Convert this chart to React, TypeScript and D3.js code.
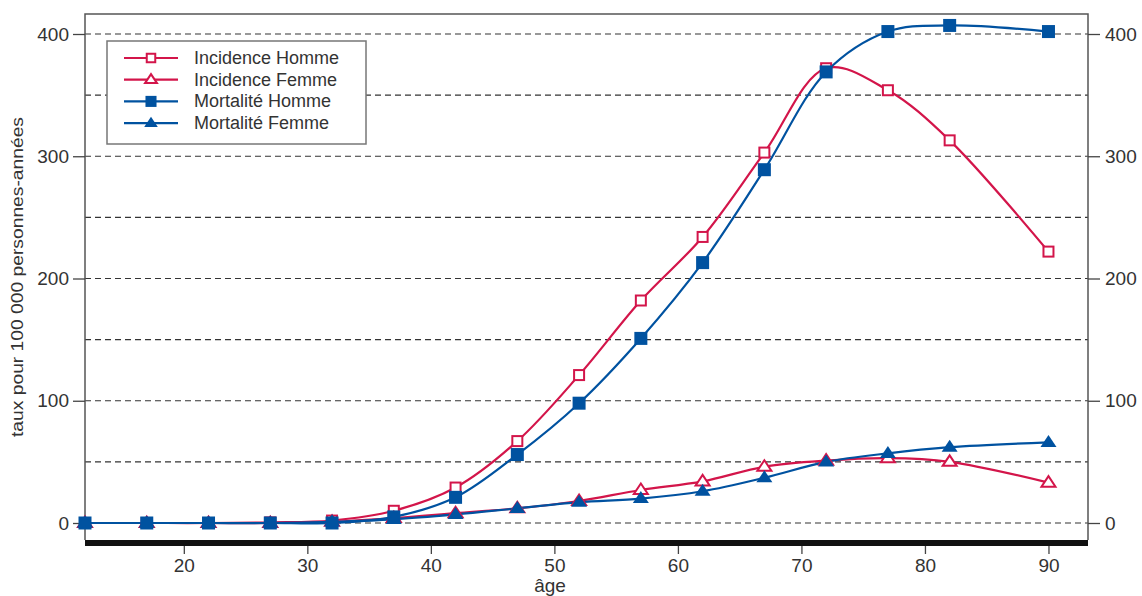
import * as d3 from 'd3';
import { useEffect, useRef } from 'react';

// ages (x) of the sampled points
const ages = [12, 17, 22, 27, 32, 37, 42, 47, 52, 57, 62, 67, 72, 77, 82, 90];

// rates per 100 000 person-years
const incidenceHomme = [0, 0, 0, 0.5, 2, 10, 29, 67, 121, 182, 234, 303, 372, 354, 313, 222];
const incidenceFemme = [0, 0, 0, 0, 1, 4, 8, 12, 18, 27, 34, 46, 51, 53, 50, 33];
const mortaliteHomme = [0, 0, 0, 0, 0, 5, 21, 56, 98, 151, 213, 289, 369, 402, 407, 402];
const mortaliteFemme = [0, 0, 0, 0, 1, 3, 7, 12, 17, 20, 26, 37, 50, 57, 62, 66];

const xTicks = [20, 30, 40, 50, 60, 70, 80, 90];
const yTicks = [0, 100, 200, 300, 400];
const gridTicks = [0, 50, 100, 150, 200, 250, 300, 350, 400];

const RED = '#d3154a';
const BLUE = '#0052a0';

const series = [
  { name: 'Incidence Homme', values: incidenceHomme, color: RED, shape: 'square', filled: false },
  { name: 'Incidence Femme', values: incidenceFemme, color: RED, shape: 'triangle', filled: false },
  { name: 'Mortalité Homme', values: mortaliteHomme, color: BLUE, shape: 'square', filled: true },
  { name: 'Mortalité Femme', values: mortaliteFemme, color: BLUE, shape: 'triangle', filled: true },
];

export default function App() {
  const svgRef = useRef<SVGSVGElement | null>(null);

  useEffect(() => {
    if (!svgRef.current) return;
    const width = 1142;
    const height = 596;
    const box = { left: 85, right: 1088, top: 14, bottom: 540 };
    const font = '"Liberation Sans", Arial, sans-serif';

    const svg = d3.select(svgRef.current).attr('width', width).attr('height', height);
    svg.selectAll('*').remove();

    const x = d3.scaleLinear().domain([12, 93.2]).range([box.left, box.right]);
    const y = d3.scaleLinear().domain([0, 400]).range([523, 34]);

    // dashed grid
    svg.append('g')
      .selectAll('line')
      .data(gridTicks)
      .join('line')
      .attr('x1', box.left)
      .attr('x2', box.right)
      .attr('y1', (d) => y(d))
      .attr('y2', (d) => y(d))
      .attr('stroke', '#333')
      .attr('stroke-width', 1.2)
      .attr('stroke-dasharray', '6,4');

    // frame
    svg.append('path')
      .attr('d', `M${box.left},${box.bottom}V${box.top}H${box.right}V${box.bottom}`)
      .attr('fill', 'none')
      .attr('stroke', '#555')
      .attr('stroke-width', 1.5);
    svg.append('rect')
      .attr('x', box.left)
      .attr('y', box.bottom)
      .attr('width', box.right - box.left)
      .attr('height', 6)
      .attr('fill', '#111');

    const styleAxis = (g: any) => {
      g.select('.domain').remove();
      g.selectAll('line').attr('stroke', '#444').attr('stroke-width', 1.3);
      g.selectAll('text').attr('fill', '#333').attr('font-size', 19).attr('font-family', font);
    };

    // y axes left & right
    svg.append('g')
      .attr('transform', `translate(${box.left},0)`)
      .call(d3.axisLeft(y).tickValues(yTicks).tickSize(12).tickPadding(4))
      .call(styleAxis);

    svg.append('g')
      .attr('transform', `translate(${box.right},0)`)
      .call(d3.axisRight(y).tickValues(yTicks).tickSize(12).tickPadding(5))
      .call(styleAxis);

    // x axis
    svg.append('g')
      .attr('transform', `translate(0,${box.bottom + 6})`)
      .call(d3.axisBottom(x).tickValues(xTicks).tickSize(8).tickPadding(5))
      .call(styleAxis);

    svg.append('text')
      .attr('x', 550)
      .attr('y', 592)
      .attr('text-anchor', 'middle')
      .attr('fill', '#333')
      .attr('font-size', 19)
      .attr('font-family', font)
      .text('âge');

    svg.append('text')
      .attr('transform', `translate(23,277) rotate(-90)`)
      .attr('text-anchor', 'middle')
      .attr('fill', '#333')
      .attr('font-size', 17)
      .attr('font-family', font)
      .attr('textLength', 320)
      .attr('lengthAdjust', 'spacingAndGlyphs')
      .text('taux pour 100 000 personnes-années');

    const line = d3.line<number>()
      .x((d, i) => x(ages[i]))
      .y((d) => y(d))
      .curve(d3.curveCatmullRom.alpha(0.5));

    const drawMarker = (g: any, cx: number, cy: number, s: typeof series[number], scale = 1) => {
      if (s.shape === 'square') {
        const size = (s.filled ? 13 : 10) * scale;
        g.append('rect')
          .attr('x', cx - size / 2)
          .attr('y', cy - size / 2)
          .attr('width', size)
          .attr('height', size)
          .attr('fill', s.filled ? s.color : '#fff')
          .attr('stroke', s.color)
          .attr('stroke-width', s.filled ? 0 : 2);
      } else {
        const r = (s.filled ? 8 : 7) * scale;
        const h = r * 1.5;
        g.append('path')
          .attr('d', `M${cx},${cy - h * 0.62}L${cx + r},${cy + h * 0.38}L${cx - r},${cy + h * 0.38}Z`)
          .attr('fill', s.filled ? s.color : '#fff')
          .attr('stroke', s.color)
          .attr('stroke-width', s.filled ? 0 : 2);
      }
    };

    // lines
    series.forEach((s) => {
      svg.append('path')
        .datum(s.values)
        .attr('fill', 'none')
        .attr('stroke', s.color)
        .attr('stroke-width', 2.2)
        .attr('d', line);
    });
    // markers
    series.forEach((s) => {
      const g = svg.append('g');
      s.values.forEach((v, i) => drawMarker(g, x(ages[i]), y(v), s));
    });

    // legend
    const lg = svg.append('g');
    lg.append('rect')
      .attr('x', 107)
      .attr('y', 41)
      .attr('width', 259)
      .attr('height', 103)
      .attr('fill', '#fff')
      .attr('stroke', '#777')
      .attr('stroke-width', 1.5);
    series.forEach((s, i) => {
      const ly = 58 + i * 21.7;
      lg.append('line')
        .attr('x1', 124)
        .attr('x2', 178)
        .attr('y1', ly)
        .attr('y2', ly)
        .attr('stroke', s.color)
        .attr('stroke-width', 2.2);
      drawMarker(lg, 151, ly, s, 0.85);
      lg.append('text')
        .attr('x', 194)
        .attr('y', ly + 6)
        .attr('fill', '#333')
        .attr('font-size', 18)
        .attr('font-family', font)
        .text(s.name);
    });
  }, []);

  return (
    <div style={{ position: 'absolute', left: 0, top: 0, background: '#fff' }}>
      <svg ref={svgRef} style={{ display: 'block' }}></svg>
    </div>
  );
}
